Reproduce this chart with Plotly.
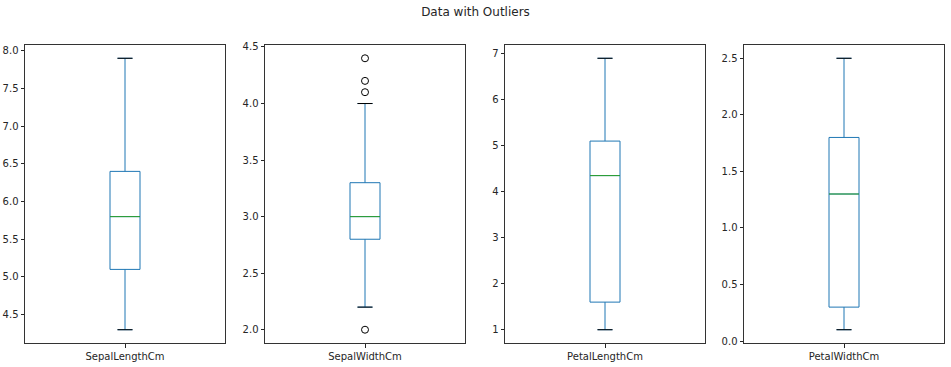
import plotly.graph_objects as go

columns = ["SepalLengthCm", "SepalWidthCm", "PetalLengthCm", "PetalWidthCm"]
q1 = [5.1, 2.8, 1.6, 0.3]
median = [5.8, 3.0, 4.35, 1.3]
q3 = [6.4, 3.3, 5.1, 1.8]
lower_whisker = [4.3, 2.2, 1.0, 0.1]
upper_whisker = [7.9, 4.0, 6.9, 2.5]
outliers = [[], [4.4, 4.1, 4.2, 2.0], [], []]
data_min = [4.3, 2.0, 1.0, 0.1]
data_max = [7.9, 4.4, 6.9, 2.5]
tick_vals = [
    [4.5, 5.0, 5.5, 6.0, 6.5, 7.0, 7.5, 8.0],
    [2.0, 2.5, 3.0, 3.5, 4.0, 4.5],
    [1, 2, 3, 4, 5, 6, 7],
    [0.0, 0.5, 1.0, 1.5, 2.0, 2.5],
]
tick_fmt = [".1f", ".1f", "d", ".1f"]

W, H = 951, 367
x_px = [(25, 225), (265, 465), (505, 705), (744, 944)]
y_dom = [1 - 343.3 / H, 1 - 44.7 / H]

BLUE = "#1f77b4"
GREEN = "#2ca02c"
box_w = 0.15
cap_w = box_w * 0.5

fig = go.Figure()
layout = dict(
    width=W, height=H, margin=dict(l=0, r=0, t=0, b=0, autoexpand=False),
    paper_bgcolor="white", plot_bgcolor="white", showlegend=False,
    font=dict(family="DejaVu Sans", size=10, color="#262626"),
)
for i, col in enumerate(columns):
    n = "" if i == 0 else str(i + 1)
    xa, ya = "x" + n, "y" + n
    fig.add_trace(go.Box(
        x=[1], q1=[q1[i]], median=[median[i]], q3=[q3[i]],
        lowerfence=[lower_whisker[i]], upperfence=[upper_whisker[i]],
        width=box_w, whiskerwidth=0.5, boxpoints=False,
        line=dict(color=BLUE, width=1), fillcolor="rgba(0,0,0,0)",
        xaxis=xa, yaxis=ya, hoverinfo="skip",
    ))
    # median line
    fig.add_trace(go.Scatter(
        x=[1 - box_w / 2, 1 + box_w / 2], y=[median[i], median[i]],
        mode="lines", line=dict(color=GREEN, width=1),
        xaxis=xa, yaxis=ya, hoverinfo="skip",
    ))
    # caps (black)
    for v in (lower_whisker[i], upper_whisker[i]):
        fig.add_trace(go.Scatter(
            x=[1 - cap_w / 2, 1 + cap_w / 2], y=[v, v],
            mode="lines", line=dict(color="black", width=1),
            xaxis=xa, yaxis=ya, hoverinfo="skip",
        ))
    if outliers[i]:
        fig.add_trace(go.Scatter(
            x=[1] * len(outliers[i]), y=outliers[i], mode="markers",
            marker=dict(symbol="circle-open", size=7, color="black",
                        line=dict(width=1, color="black")),
            xaxis=xa, yaxis=ya, hoverinfo="skip",
        ))
    span = data_max[i] - data_min[i]
    yr = [data_min[i] - 0.05 * span, data_max[i] + 0.05 * span]
    xd = [x_px[i][0] / W, x_px[i][1] / W]
    layout["xaxis" + n] = dict(
        domain=xd, range=[0.5, 1.5], anchor=ya, automargin=False,
        tickvals=[1], ticktext=[col], ticks="outside", ticklen=3.5,
        tickcolor="#262626", showline=True, linecolor="#333333", linewidth=1,
        mirror=True, showgrid=False, zeroline=False, fixedrange=True,
    )
    layout["yaxis" + n] = dict(
        domain=y_dom, range=yr, anchor=xa, automargin=False,
        tickvals=tick_vals[i], tickformat=tick_fmt[i], ticks="outside",
        ticklen=3.5, tickcolor="#262626", showline=True, linecolor="#333333",
        linewidth=1, mirror=True, showgrid=False, zeroline=False,
    )

layout["title"] = dict(
    text="Data with Outliers", x=0.5, xanchor="center", y=1 - 12 / H,
    yanchor="middle", font=dict(family="DejaVu Sans", size=12, color="#262626"),
    automargin=False,
)
fig.update_layout(**layout)
fig.write_html(
    "out.html",
    config={"displayModeBar": False},
    post_script="document.body.style.margin='0px';document.body.style.overflow='hidden';",
)
